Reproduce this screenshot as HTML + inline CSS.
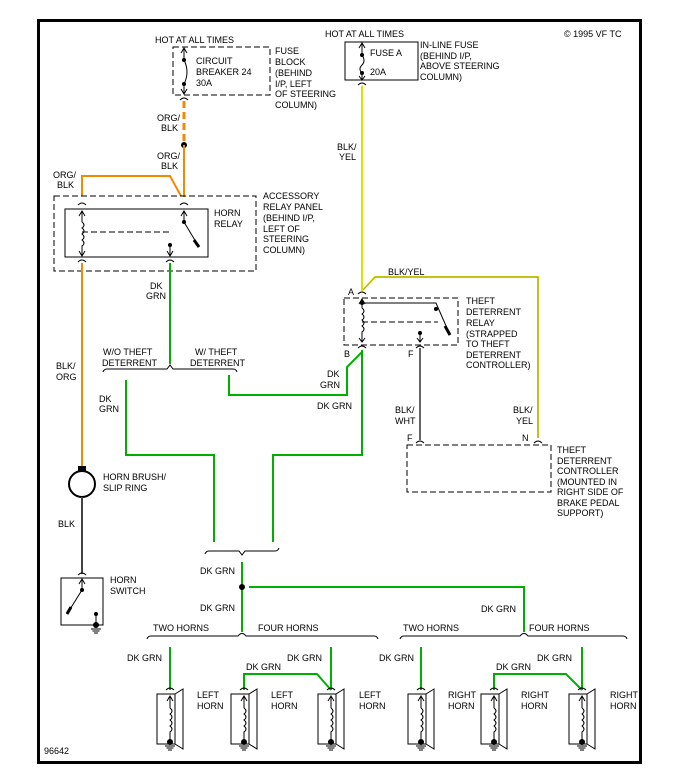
<!DOCTYPE html>
<html><head><meta charset="utf-8"><style>
html,body{margin:0;padding:0;background:#fff;}
svg{display:block;}
text{font-family:"Liberation Sans",sans-serif;font-size:9px;fill:#000;}
</style></head><body>
<svg width="679" height="784" viewBox="0 0 679 784" xmlns="http://www.w3.org/2000/svg">
<defs>
<g id="horn">
  <path d="M-4,-2 Q0,-6 4,-2" fill="none" stroke="#000"/>
  <rect x="-13" y="2" width="18" height="50" fill="none" stroke="#000"/>
  <path d="M5,2 L13,-3 L13,57 L5,52" fill="none" stroke="#000"/>
  <path d="M0,4 L0,16 M-3,9 L0,4 L3,9" fill="none" stroke="#000"/>
  <path d="M0,16 q4,3 0,6 q4,3 0,6 q4,3 0,6 q4,3 0,6 L0,50" fill="none" stroke="#000"/>
  <circle cx="0" cy="50" r="3" fill="#000"/>
  <path d="M-5,54 h10 M-3.5,56 h7 M-2,58 h4" stroke="#000"/>
</g>
</defs>
<rect x="38.5" y="20.5" width="602" height="742" fill="none" stroke="#000" stroke-width="3"/>
<text x="564" y="37">© 1995 VF TC</text>
<text x="44" y="754">96642</text>

<!-- fuse block -->
<text x="155" y="43">HOT AT ALL TIMES</text>
<rect x="173" y="47" width="97" height="48" fill="none" stroke="#000" stroke-dasharray="6,3"/>
<path d="M184,48 L184,60 M181,53 L184,48 L187,53" fill="none" stroke="#000"/>
<circle cx="184" cy="60" r="2" fill="#000"/>
<path d="M184,60 Q190,72 184,84" fill="none" stroke="#000"/>
<circle cx="184" cy="84" r="2" fill="#000"/>
<path d="M184,84 L184,94 M181,89 L184,94 L187,89" fill="none" stroke="#000"/>
<path d="M180,100 Q184,96 188,100" fill="none" stroke="#000"/>
<text x="196" y="64">CIRCUIT</text><text x="196" y="75">BREAKER 24</text><text x="196" y="86">30A</text>
<text x="275" y="54">FUSE</text><text x="275" y="65">BLOCK</text><text x="275" y="76">(BEHIND</text><text x="275" y="87">I/P, LEFT</text><text x="275" y="97">OF STEERING</text><text x="275" y="108">COLUMN)</text>
<line x1="184" y1="101" x2="184" y2="145" stroke="#f08a00" stroke-width="3" stroke-dasharray="7,4"/>
<circle cx="184" cy="145" r="3" fill="#000"/>
<line x1="184" y1="145" x2="184" y2="197" stroke="#f08a00" stroke-width="2"/>
<text x="157" y="121">ORG/</text><text x="161" y="131">BLK</text>
<text x="157" y="159">ORG/</text><text x="161" y="169">BLK</text>
<path d="M82,196 L82,176 L170,176 L181,196" fill="none" stroke="#f08a00" stroke-width="2"/>
<text x="53" y="178">ORG/</text><text x="57" y="188">BLK</text>

<!-- accessory relay -->
<rect x="54" y="196" width="202" height="75" fill="none" stroke="#000" stroke-dasharray="6,3"/>
<rect x="65" y="209" width="143" height="48" fill="none" stroke="#000"/>
<path d="M78,205 Q82,201 86,205 M180,205 Q184,201 188,205" fill="none" stroke="#000"/>
<path d="M82,212 L82,222 M79,216 L82,211 L85,216" fill="none" stroke="#000"/>
<path d="M82,222 q4,3 0,6 q4,3 0,6 q4,3 0,6 q4,3 0,6 L82,256 M79,251 L82,256 L85,251" fill="none" stroke="#000"/>
<path d="M184,212 L184,222 M181,216 L184,211 L187,216" fill="none" stroke="#000"/>
<circle cx="184" cy="222" r="2" fill="#000"/>
<line x1="184" y1="222" x2="199" y2="247" stroke="#000"/>
<line x1="194" y1="240" x2="199" y2="247" stroke="#000" stroke-width="3"/>
<line x1="82" y1="232" x2="172" y2="232" stroke="#000" stroke-dasharray="6,3"/>
<circle cx="170" cy="245" r="2" fill="#000"/>
<path d="M170,245 L170,256 M167,251 L170,256 L173,251" fill="none" stroke="#000"/>
<path d="M78,262 Q82,258 86,262 M166,262 Q170,258 174,262" fill="none" stroke="#000"/>
<text x="214" y="216">HORN</text><text x="214" y="227">RELAY</text>
<text x="263" y="199">ACCESSORY</text><text x="263" y="210">RELAY PANEL</text><text x="263" y="221">(BEHIND I/P,</text><text x="263" y="232">LEFT OF</text><text x="263" y="242">STEERING</text><text x="263" y="253">COLUMN)</text>

<line x1="82" y1="263" x2="82" y2="468" stroke="#f08a00" stroke-width="2"/>
<text x="56" y="369">BLK/</text><text x="56" y="380">ORG</text>
<line x1="170" y1="263" x2="170" y2="364" stroke="#00b000" stroke-width="2"/>
<text x="150" y="289">DK</text><text x="146" y="299">GRN</text>

<!-- upper brace -->
<path d="M103,372 Q104,369 107,369 L167,369 L170,365 L173,369 L233,369 Q236,369 237,372" fill="none" stroke="#000"/>
<text x="103" y="355">W/O THEFT</text><text x="102" y="366">DETERRENT</text>
<text x="195" y="355">W/ THEFT</text><text x="190" y="366">DETERRENT</text>
<text x="99" y="402">DK</text><text x="99" y="412">GRN</text>
<path d="M126,380 L126,455 L214,455 L214,542" fill="none" stroke="#00b000" stroke-width="2"/>
<path d="M229,375 L229,395 L347,395 L347,367 L362,352" fill="none" stroke="#00b000" stroke-width="2"/>
<path d="M362,350 L362,455 L273,455 L273,542" fill="none" stroke="#00b000" stroke-width="2"/>
<text x="327" y="377">DK</text><text x="320" y="388">GRN</text>
<text x="317" y="409">DK GRN</text>

<!-- horn brush -->
<rect x="78" y="466" width="8" height="6" fill="#000"/>
<circle cx="82" cy="484" r="13" fill="none" stroke="#000" stroke-width="2"/>
<text x="103" y="480">HORN BRUSH/</text><text x="103" y="491">SLIP RING</text>
<line x1="82" y1="497" x2="82" y2="574" stroke="#444" stroke-width="2"/>
<text x="58" y="527">BLK</text>
<path d="M78,575 Q82,571 86,575" fill="none" stroke="#000"/>
<rect x="61" y="578" width="42" height="47" fill="none" stroke="#000"/>
<path d="M82,580 L82,590 M79,584 L82,579 L85,584" fill="none" stroke="#000"/>
<circle cx="82" cy="590" r="2" fill="#000"/><line x1="82" y1="590" x2="67" y2="614" stroke="#000"/>
<line x1="67" y1="614" x2="71" y2="607" stroke="#000" stroke-width="3"/>
<circle cx="96" cy="614" r="2" fill="#000"/><line x1="96" y1="614" x2="96" y2="625" stroke="#000"/>
<circle cx="96" cy="625" r="3" fill="#000"/>
<path d="M91,629 h10 M92.5,631 h7 M94,633 h4" stroke="#000"/>
<text x="110" y="583">HORN</text><text x="110" y="594">SWITCH</text>

<!-- lower splice -->
<path d="M205,554 Q206,551 209,551 L239,551 L242,555 L245,551 L275,551 Q278,551 279,548" fill="none" stroke="#000"/>
<line x1="242" y1="562" x2="242" y2="632" stroke="#00b000" stroke-width="2"/>
<circle cx="242" cy="587" r="3" fill="#000"/>
<text x="200" y="574">DK GRN</text><text x="200" y="611">DK GRN</text>
<path d="M249,587 L524,587 L524,632" fill="none" stroke="#00b000" stroke-width="2"/>
<text x="481" y="612">DK GRN</text>

<path d="M147,639 Q148,636 151,636 L238,636 Q242,631 246,636 L374,636 Q377,636 378,639" fill="none" stroke="#000"/>
<text x="153" y="631">TWO HORNS</text><text x="258" y="631">FOUR HORNS</text>
<path d="M400,639 Q401,636 404,636 L520,636 Q524,631 528,636 L623,636 Q626,636 627,639" fill="none" stroke="#000"/>
<text x="403" y="631">TWO HORNS</text><text x="529" y="631">FOUR HORNS</text>

<!-- horn wires -->
<g fill="none" stroke="#00b000" stroke-width="2">
<path d="M170,647 L170,690"/>
<path d="M244,690 L244,674 L317,674 L331,690"/>
<path d="M331,647 L331,690"/>
<path d="M421,647 L421,690"/>
<path d="M494,690 L494,674 L566,674 L582,690"/>
<path d="M582,647 L582,690"/>
</g>
<text x="127" y="661">DK GRN</text><text x="246" y="670">DK GRN</text><text x="287" y="661">DK GRN</text>
<text x="379" y="661">DK GRN</text><text x="496" y="670">DK GRN</text><text x="537" y="661">DK GRN</text>
<use href="#horn" x="170" y="692"/><use href="#horn" x="244" y="692"/><use href="#horn" x="331" y="692"/>
<use href="#horn" x="421" y="692"/><use href="#horn" x="494" y="692"/><use href="#horn" x="582" y="692"/>
<text x="197" y="698">LEFT</text><text x="197" y="709">HORN</text>
<text x="271" y="698">LEFT</text><text x="271" y="709">HORN</text>
<text x="359" y="698">LEFT</text><text x="359" y="709">HORN</text>
<text x="448" y="698">RIGHT</text><text x="448" y="709">HORN</text>
<text x="521" y="698">RIGHT</text><text x="521" y="709">HORN</text>
<text x="610" y="698">RIGHT</text><text x="610" y="709">HORN</text>

<!-- inline fuse -->
<text x="325" y="37">HOT AT ALL TIMES</text>
<rect x="345" y="42" width="73" height="38" fill="none" stroke="#000"/>
<path d="M362,43 L362,55 M359,48 L362,43 L365,48" fill="none" stroke="#000"/>
<circle cx="362" cy="55" r="2" fill="#000"/>
<path d="M362,55 Q366,61 362,65 Q358,69 362,73" fill="none" stroke="#000"/>
<circle cx="362" cy="73" r="2" fill="#000"/>
<path d="M362,73 L362,80 M359,76 L362,80 L365,76" fill="none" stroke="#000"/>
<path d="M358,85 Q362,81 366,85" fill="none" stroke="#000"/>
<text x="370" y="56">FUSE A</text><text x="370" y="75">20A</text>
<text x="420" y="48">IN-LINE FUSE</text><text x="420" y="59">(BEHIND I/P,</text><text x="420" y="69">ABOVE STEERING</text><text x="420" y="80">COLUMN)</text>
<line x1="362" y1="86" x2="362" y2="291" stroke="#e0e000" stroke-width="2"/>
<text x="337" y="150">BLK/</text><text x="339" y="160">YEL</text>
<path d="M363,290 L375,277 L538,277 L538,438" fill="none" stroke="#e0e000" stroke-width="2"/>
<path d="M363,290 L375,277 L538,277 L538,438" fill="none" stroke="#666" stroke-width="0.5"/>
<text x="388" y="275">BLK/YEL</text>
<text x="348" y="295">A</text>
<path d="M358,294 Q362,290 366,294" fill="none" stroke="#000"/>

<!-- theft relay -->
<rect x="344" y="298" width="114" height="47" fill="none" stroke="#000" stroke-dasharray="6,3"/>
<path d="M362,300 L362,308 M359,304 L362,299 L365,304" fill="none" stroke="#000"/>
<circle cx="362" cy="303" r="2" fill="#000"/>
<path d="M362,303 L436,303 L450,335" fill="none" stroke="#000"/>
<circle cx="436" cy="309" r="2" fill="#000"/>
<line x1="445" y1="326" x2="450" y2="335" stroke="#000" stroke-width="3"/>
<path d="M362,308 q4,3 0,6 q4,3 0,6 q4,3 0,6 q4,3 0,6 L362,342 M359,338 L362,342 L365,338" fill="none" stroke="#000"/>
<line x1="362" y1="322" x2="438" y2="322" stroke="#000" stroke-dasharray="6,3"/>
<circle cx="420" cy="333" r="2" fill="#000"/>
<path d="M420,333 L420,342 M417,338 L420,342 L423,338" fill="none" stroke="#000"/>
<path d="M358,348 Q362,344 366,348 M416,348 Q420,344 424,348" fill="none" stroke="#000"/>
<text x="344" y="357">B</text><text x="408" y="357">F</text>
<text x="466" y="304">THEFT</text><text x="466" y="315">DETERRENT</text><text x="466" y="326">RELAY</text><text x="466" y="337">(STRAPPED</text><text x="466" y="347">TO THEFT</text><text x="466" y="358">DETERRENT</text><text x="466" y="368">CONTROLLER)</text>
<line x1="420" y1="348" x2="420" y2="440" stroke="#666" stroke-width="2"/>
<text x="395" y="413">BLK/</text><text x="395" y="424">WHT</text>
<text x="513" y="413">BLK/</text><text x="516" y="424">YEL</text>
<text x="407" y="441">F</text><text x="522" y="441">N</text>
<path d="M416,443 Q420,439 424,443 M534,443 Q538,439 542,443" fill="none" stroke="#000"/>
<rect x="407" y="445" width="144" height="47" fill="none" stroke="#000" stroke-dasharray="6,3"/>
<text x="557" y="453">THEFT</text><text x="557" y="464">DETERRENT</text><text x="557" y="474">CONTROLLER</text><text x="557" y="485">(MOUNTED IN</text><text x="557" y="495">RIGHT SIDE OF</text><text x="557" y="506">BRAKE PEDAL</text><text x="557" y="516">SUPPORT)</text>
</svg>
</body></html>
